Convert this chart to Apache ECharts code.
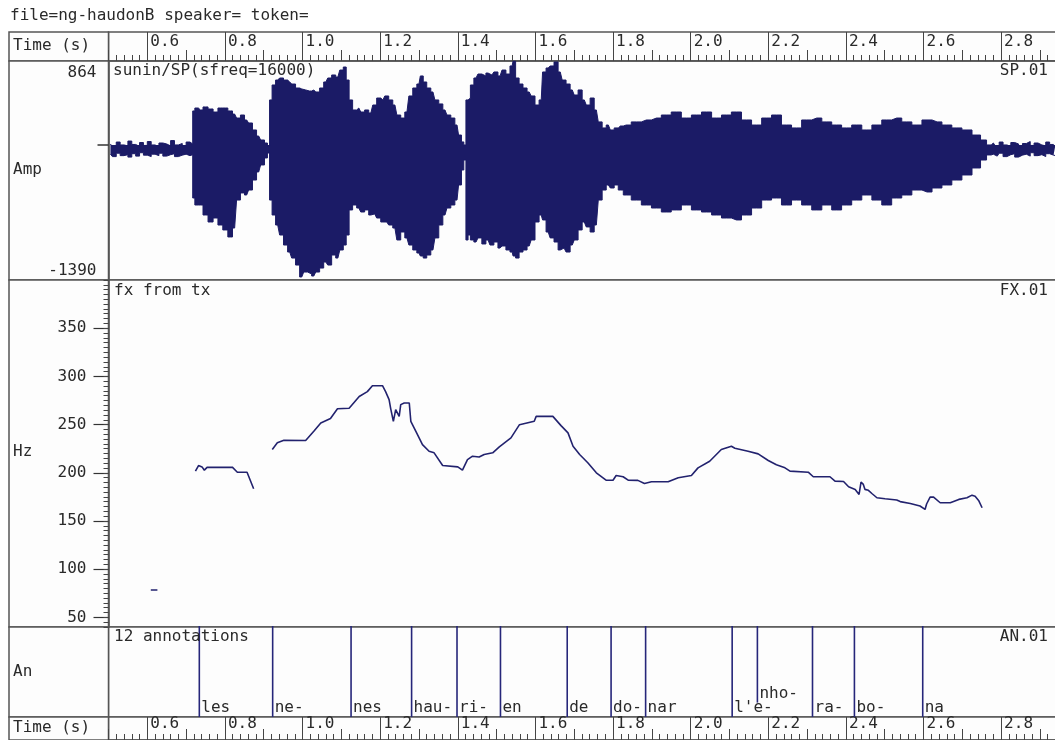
<!DOCTYPE html>
<html><head><meta charset="utf-8">
<script src="https://cdn.jsdelivr.net/npm/echarts@6/dist/echarts.min.js"></script>
<style>html,body{margin:0;padding:0;background:#fff}#c{width:1055px;height:740px}</style>
</head><body><div id="c"></div>
<script>
// ---------- data ----------
const timeMajorTicks = [0.6, 0.8, 1.0, 1.2, 1.4, 1.6, 1.8, 2.0, 2.2, 2.4, 2.6, 2.8];
const hzTicks = [50, 100, 150, 200, 250, 300, 350];
const ampLabelsTop = [864];
const ampLabelsBottom = [-1390];

// waveform envelope (time s, upper amp, lower amp)
const waveTimes = [
 0.505,0.515,0.525,0.535,0.545,0.555,0.565,0.575,0.585,0.595,0.605,0.615,0.625,0.635,0.645,0.655,0.665,0.675,0.685,0.695,0.705,0.715,
 0.719,0.726,0.737,0.750,0.763,0.776,0.788,0.801,0.814,0.825,0.835,0.845,0.856,0.866,0.876,0.887,0.897,0.907,0.912,
 0.918,0.925,0.936,0.946,0.956,0.967,0.977,0.987,0.998,1.008,1.018,1.029,1.039,1.049,1.060,1.070,1.080,1.091,1.101,1.109,1.116,
 1.124,1.134,1.145,1.155,1.165,1.176,1.186,1.196,1.207,1.217,1.227,1.238,1.248,1.258,1.269,1.279,1.289,1.300,1.307,1.315,1.325,
 1.336,1.346,1.356,1.367,1.377,1.387,1.398,1.406,1.413,1.418,
 1.424,1.429,1.436,1.447,1.457,1.467,1.478,1.488,1.498,1.509,1.519,1.529,1.540,1.545,1.553,1.563,1.573,1.584,1.594,1.604,1.615,
 1.622,1.633,1.643,1.653,1.664,1.674,1.684,1.695,1.705,1.715,1.726,1.736,1.746,1.757,1.767,1.777,1.788,1.798,1.808,1.819,
 1.834,1.860,1.886,1.912,1.937,1.963,1.989,2.015,2.041,2.067,2.092,2.118,2.144,2.170,2.196,2.221,2.247,2.273,2.299,2.325,
 2.351,2.376,2.402,2.428,2.454,2.480,2.505,2.531,2.557,2.583,2.609,2.635,2.660,2.686,2.712,2.738,2.756,2.769,
 2.780,2.790,2.800,2.810,2.820,2.830,2.840,2.850,2.860,2.870,2.880,2.890,2.900,2.910,2.920,2.930,2.940
];
const waveUpper = [
 10,-20,30,0,-10,40,5,-15,25,-5,35,0,-20,20,10,-10,45,0,15,-15,30,10,
 350,380,360,391,370,339,380,380,350,318,277,308,257,226,154,92,51,20,-11,
 463,617,668,689,668,648,627,586,576,566,555,566,545,586,648,689,720,699,771,802,668,
 463,360,380,339,360,329,411,483,463,504,463,411,308,277,339,504,586,627,710,648,586,
 545,463,422,360,308,277,205,102,31,0,
 463,483,617,689,730,710,740,720,751,710,771,730,813,864,689,627,586,545,504,411,463,
 751,792,813,854,751,668,627,566,514,566,463,411,483,360,237,175,205,154,175,195,
 205,237,257,277,308,339,277,308,339,277,308,339,257,205,277,308,205,175,257,277,
 237,205,175,205,154,205,257,277,237,205,257,237,205,175,154,102,51,0,
 20,-10,30,0,-15,25,10,-20,15,35,-5,20,0,-10,30,5,-15
];
const waveLower = [
 -95,-120,-85,-110,-100,-125,-90,-115,-80,-105,-120,-95,-110,-85,-115,-100,-90,-120,-105,-95,-110,-100,
 -546,-618,-618,-721,-793,-752,-824,-875,-947,-855,-567,-494,-515,-464,-361,-278,-206,-134,-83,
 -567,-721,-824,-927,-1030,-1102,-1164,-1236,-1359,-1308,-1328,-1349,-1308,-1267,-1205,-1236,-1133,-1164,-1081,-1030,-927,
 -669,-618,-649,-690,-669,-721,-710,-752,-793,-793,-824,-855,-978,-896,-957,-1030,-1081,-1112,-1143,-1164,-1133,
 -1081,-957,-824,-721,-649,-618,-567,-412,-258,-155,
 -978,-927,-978,-999,-957,-1019,-978,-1030,-999,-1061,-1040,-1081,-1102,-1143,-1164,-1102,-1081,-1040,-978,-793,-721,
 -772,-896,-957,-999,-1081,-1061,-1102,-1030,-978,-875,-793,-844,-896,-824,-567,-464,-412,-443,-412,-464,
 -515,-567,-618,-649,-690,-669,-618,-669,-690,-721,-752,-772,-721,-649,-567,-546,-618,-567,-618,-669,
 -618,-669,-618,-567,-515,-567,-618,-546,-515,-464,-484,-443,-412,-361,-309,-237,-155,-103,
 -95,-115,-85,-120,-100,-90,-125,-105,-95,-115,-80,-110,-100,-120,-90,-105,-110
];

// pitch track segments [time s, Hz]
const pitchSeg0 = [[0.609, 78.4], [0.626, 78.4]];
const pitchSeg1 = [
 [0.724,201.7],[0.732,207.5],[0.741,206.1],[0.747,202.7],[0.754,205.6],[0.819,205.8],
 [0.832,200.6],[0.857,200.6],[0.874,183.4]
];
const pitchSeg2 = [
 [0.922,224.1],[0.935,231.1],[0.952,233.7],[1.008,233.5],[1.029,243.0],[1.047,251.7],[1.072,256.3],
 [1.090,266.4],[1.120,266.9],[1.146,279.1],[1.167,284.2],[1.180,290.3],[1.206,290.3],[1.214,284.2],
 [1.223,275.9],[1.227,266.9],[1.234,253.4],[1.240,265.5],[1.249,258.5],[1.253,270.7],[1.262,272.4],
 [1.275,272.4],[1.279,253.4],[1.292,243.0],[1.309,229.2],[1.326,222.3],[1.339,220.7],[1.361,207.5],
 [1.400,206.1],[1.412,202.7],[1.425,213.7],[1.438,217.2],[1.455,216.3],[1.468,218.9],[1.490,220.7],
 [1.507,226.9],[1.511,227.5],[1.537,236.2],[1.559,249.9],[1.597,253.4],[1.602,258.5],[1.645,258.5],
 [1.666,248.9],[1.684,241.4],[1.697,227.5],[1.714,218.9],[1.735,210.4],[1.757,200.0],[1.782,192.3],
 [1.800,192.3],[1.808,197.2],[1.826,195.9],[1.839,192.3],[1.864,192.1],[1.881,188.9],[1.899,190.7],
 [1.942,190.7],[1.968,194.9],[2.002,197.2],[2.019,205.1],[2.049,212.0],[2.079,224.1],[2.105,227.5],
 [2.114,225.4],[2.148,222.3],[2.174,219.6],[2.200,212.7],[2.221,208.3],[2.243,205.1],[2.256,201.7],
 [2.303,200.6],[2.316,195.9],[2.359,195.9],[2.372,191.3],[2.394,190.9],[2.407,185.5],[2.424,182.7],
 [2.434,177.5],[2.439,190.3],[2.445,187.9],[2.449,182.8],[2.458,181.8],[2.467,178.5],[2.480,174.1],
 [2.501,173.1],[2.531,171.7],[2.540,170.1],[2.566,168.2],[2.591,165.5],[2.604,162.0],[2.608,167.6],
 [2.617,174.7],[2.626,174.7],[2.643,168.9],[2.669,168.9],[2.691,172.4],[2.712,174.1],[2.725,176.8],
 [2.733,175.7],[2.742,171.3],[2.751,163.7]
];

// annotations
const annTimes = [0.734, 0.923, 1.125, 1.281, 1.398, 1.510, 1.682, 1.795, 1.884, 2.107, 2.172, 2.314, 2.422, 2.598];
const annLabels = ['les', 'ne-', 'nes', 'hau-', 'ri-', 'en', 'de', 'do-', 'nar', "l'e-", 'nho-', 'ra-', 'bo-', 'na'];
const annLevels = [0, 0, 0, 0, 0, 0, 0, 0, 0, 0, 0.16, 0, 0, 0];

// ---------- chart ----------
const FONT = '"DejaVu Sans Mono", monospace';
const FS = 16;
const NAVY = '#1b1b66';
const FRAME = '#555';
const TXT = '#2a2a2a';
const T0 = 0.5, T1 = 2.944;
const PL = 108.5;

const rows = [
  {top: 32, height: 29},   // time axis top
  {top: 61, height: 219},  // waveform
  {top: 280, height: 347}, // pitch
  {top: 627, height: 90},  // annotations
  {top: 717, height: 23}   // time axis bottom
];

const gridBase = {show: true, borderColor: FRAME, borderWidth: 1.5, backgroundColor: '#fdfdfd',
  containLabel: false, outerBoundsMode: 'none'};
const grids = rows.map(r => Object.assign({left: PL, right: -2, top: r.top, height: r.height}, gridBase));
rows.forEach(r => grids.push(Object.assign({left: 9, width: PL - 9, top: r.top, height: r.height}, gridBase)));

function timeAxes(g, h, labelMargin) {
  return [
    {type: 'value', gridIndex: g, min: T0, max: T1, position: 'bottom',
     axisLine: {show: true, lineStyle: {color: FRAME, width: 1.5}},
     axisTick: {show: true, inside: true, length: h, customValues: timeMajorTicks, lineStyle: {color: '#444', width: 1}},
     axisLabel: {show: true, inside: true, customValues: timeMajorTicks, formatter: v => v.toFixed(1),
       margin: labelMargin, align: 'left', verticalAlign: 'bottom', padding: [0, 0, 0, 3],
       color: TXT, fontFamily: FONT, fontSize: FS},
     splitLine: {show: false}},
    {type: 'value', gridIndex: g, min: T0, max: T1, interval: 0.1, position: 'bottom',
     axisLine: {show: false},
     axisTick: {show: true, inside: true, length: 11, lineStyle: {color: '#444', width: 1}},
     minorTick: {show: true, splitNumber: 5, length: 6, lineStyle: {color: '#444', width: 1}},
     axisLabel: {show: false}, splitLine: {show: false}}
  ];
}
function hiddenX(g) { return {type: 'value', gridIndex: g, min: T0, max: T1, show: false}; }

const xAxis = [].concat(
  timeAxes(0, 29, 11),
  [hiddenX(1), hiddenX(2), hiddenX(3)],
  timeAxes(4, 23, 8)
);

const yAxis = [
  {type: 'value', gridIndex: 0, min: 0, max: 1, show: false},
  {type: 'value', gridIndex: 1, min: -1390, max: 864, position: 'left',
   axisLine: {show: true, lineStyle: {color: FRAME, width: 1.5}},
   axisTick: {show: true, length: 11, customValues: [0], lineStyle: {color: '#333', width: 1.5}},
   axisLabel: {show: true, customValues: ampLabelsTop, formatter: v => String(v), margin: 12,
     verticalAlign: 'top', padding: [4, 0, 0, 0], color: TXT, fontFamily: FONT, fontSize: FS},
   splitLine: {show: false}},
  {type: 'value', gridIndex: 1, min: -1390, max: 864, position: 'left',
   axisLine: {show: false}, axisTick: {show: false},
   axisLabel: {show: true, customValues: ampLabelsBottom, formatter: v => String(v), margin: 12,
     verticalAlign: 'bottom', padding: [0, 0, 1, 0], color: TXT, fontFamily: FONT, fontSize: FS},
   splitLine: {show: false}},
  {type: 'value', gridIndex: 2, min: 40, max: 400, position: 'left',
   axisLine: {show: true, lineStyle: {color: FRAME, width: 1.5}},
   axisTick: {show: true, length: 15, customValues: hzTicks, lineStyle: {color: '#333', width: 1.2}},
   axisLabel: {show: true, customValues: hzTicks, margin: 22, color: TXT, fontFamily: FONT, fontSize: FS},
   splitLine: {show: false}},
  {type: 'value', gridIndex: 2, min: 40, max: 400, interval: 5, position: 'left',
   axisLine: {show: false},
   axisTick: {show: true, length: 5, lineStyle: {color: '#444', width: 1}},
   axisLabel: {show: false}, splitLine: {show: false}},
  {type: 'value', gridIndex: 3, min: 0, max: 1, show: false},
  {type: 'value', gridIndex: 4, min: 0, max: 1, show: false}
];

function waveSeries(arr) {
  return {type: 'line', xAxisIndex: 2, yAxisIndex: 1, symbol: 'none', sampling: 'none', step: 'middle',
    data: waveTimes.map((t, i) => [t, arr[i]]),
    lineStyle: {color: NAVY, width: 1}, areaStyle: {color: NAVY, opacity: 1, origin: 0},
    silent: true, z: 2};
}
function pitchSeries(seg) {
  return {type: 'line', xAxisIndex: 3, yAxisIndex: 3, symbol: 'none', data: seg,
    lineStyle: {color: '#22226e', width: 1.6}, silent: true, z: 3};
}

const series = [
  waveSeries(waveUpper), waveSeries(waveLower),
  pitchSeries(pitchSeg0), pitchSeries(pitchSeg1), pitchSeries(pitchSeg2),
  {type: 'custom', xAxisIndex: 4, yAxisIndex: 5, silent: true, z: 4,
   data: annTimes.map((t, i) => [t, annLevels[i]]),
   encode: {x: 0, y: 1},
   renderItem: function (params, api) {
     const t = api.value(0), lv = api.value(1);
     const top = api.coord([t, 1]);
     const bot = api.coord([t, lv]);
     return {type: 'group', children: [
       {type: 'line', shape: {x1: top[0], y1: top[1] - 1, x2: bot[0], y2: bot[1]},
        style: {stroke: '#26267a', lineWidth: 1.6}},
       {type: 'text', style: {text: annLabels[params.dataIndex], x: bot[0] + 2, y: bot[1] - 1,
        align: 'left', verticalAlign: 'bottom', font: FS + 'px ' + FONT, fill: TXT}}
     ]};
   }}
];

function txt(opts, text) {
  return Object.assign({type: 'text', z: 100, style: {text: text, font: FS + 'px ' + FONT, fill: TXT}}, opts);
}
const graphic = [
  txt({left: 10, top: 8}, 'file=ng-haudonB speaker= token='),
  txt({left: 13, top: 38}, 'Time (s)'),
  txt({left: 13, top: 162}, 'Amp'),
  txt({left: 13, top: 444}, 'Hz'),
  txt({left: 13, top: 664}, 'An'),
  txt({left: 13, top: 720}, 'Time (s)'),
  txt({left: 113, top: 63}, 'sunin/SP(sfreq=16000)'),
  txt({right: 7, top: 63}, 'SP.01'),
  txt({left: 114, top: 283}, 'fx from tx'),
  txt({right: 7, top: 283}, 'FX.01'),
  txt({left: 114, top: 629}, '12 annotations'),
  txt({right: 7, top: 629}, 'AN.01')
];

const chart = echarts.init(document.getElementById('c'), null, {renderer: 'canvas'});
chart.setOption({
  backgroundColor: '#ffffff',
  animation: false,
  grid: grids, xAxis: xAxis, yAxis: yAxis, series: series, graphic: graphic
});
</script></body></html>
